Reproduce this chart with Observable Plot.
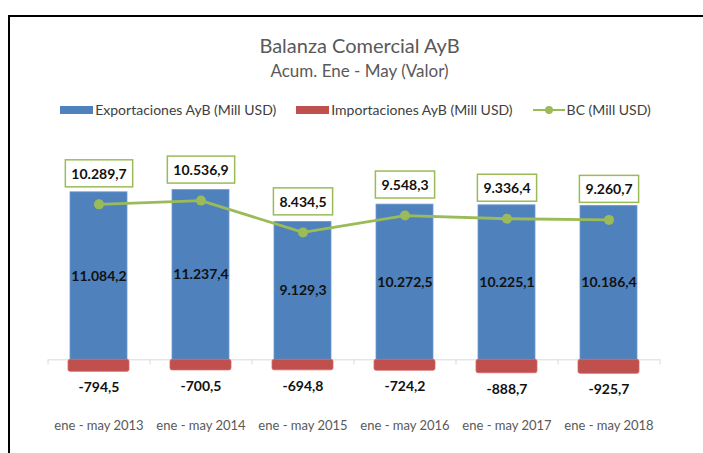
<!DOCTYPE html>
<html>
<head>
<meta charset="utf-8">
<script src="https://cdn.jsdelivr.net/npm/d3@7"></script>
<script src="https://cdn.jsdelivr.net/npm/@observablehq/plot@0.6"></script>
<style>
  html, body { margin: 0; padding: 0; background: #fff; overflow: hidden; width: 703px; height: 453px; }
  #frame { position: absolute; left: 8px; top: 15px; width: 720px; height: 460px;
           border-top: 2px solid #000; border-left: 2px solid #000; box-sizing: border-box; }
  #inner { position: absolute; left: -2px; top: 0px; width: 695px; font-family: Lato, "Open Sans", sans-serif; }
  .title { position: absolute; top: 16px; left: 4px; width: 695px; text-align: center; font-size: 20px; color: #595959; }
  .subtitle { position: absolute; top: 43px; left: 4px; width: 695px; text-align: center; font-size: 17px; color: #595959; }
  .legend { position: absolute; top: 84px; width: 695px; display: flex; justify-content: center; align-items: center;
            font-size: 14px; color: #404040; }
  .legend .item { display: flex; align-items: center; margin: 0 10px; }
  .sw { width: 33px; height: 8px; margin-right: 2px; }
  .ln { position: relative; width: 32px; height: 10px; margin-right: 2px; }
  .ln::before { content: ""; position: absolute; left: 0; right: 0; top: 4px; height: 2.5px; background: #9bbb59; }
  .ln::after { content: ""; position: absolute; left: 12px; top: 1.5px; width: 8px; height: 8px; border-radius: 50%; background: #9bbb59; }
  #chart { position: absolute; left: 0; top: 111px; }
</style>
</head>
<body>
<div id="frame">
  <div id="inner">
    <div class="title">Balanza Comercial AyB</div>
    <div class="subtitle">Acum. Ene - May (Valor)</div>
    <div class="legend" id="legend"></div>
    <div id="chart"></div>
  </div>
</div>
<script>
const periods = ["ene - may 2013", "ene - may 2014", "ene - may 2015", "ene - may 2016", "ene - may 2017", "ene - may 2018"];
const exportaciones = [11084.2, 11237.4, 9129.3, 10272.5, 10225.1, 10186.4];
const importaciones = [-794.5, -700.5, -694.8, -724.2, -888.7, -925.7];
const bc = [10289.7, 10536.9, 8434.5, 9548.3, 9336.4, 9260.7];
const seriesNames = ["Exportaciones AyB (Mill USD)", "Importaciones AyB (Mill USD)", "BC (Mill USD)"];

const BLUE = "#4f81bd", RED = "#c0504d", GREEN = "#9bbb59";

const rows = periods.map((p, i) => ({period: p, exp: exportaciones[i], imp: importaciones[i], bc: bc[i]}));
const fmt = v => {
  const s = Math.abs(v).toFixed(1).split(".");
  const intPart = s[0].replace(/\B(?=(\d{3})+(?!\d))/g, ".");
  return (v < 0 ? "-" : "") + intPart + "," + s[1];
};

// legend
const legend = document.getElementById("legend");
legend.innerHTML =
  `<div class="item"><div class="sw" style="background:${BLUE}"></div>${seriesNames[0]}</div>` +
  `<div class="item"><div class="sw" style="background:${RED}"></div>${seriesNames[1]}</div>` +
  `<div class="item"><div class="ln"></div>${seriesNames[2]}</div>`;

const W = 695, H = 343;
const plot = Plot.plot({
  width: W,
  height: H,
  marginLeft: 40,
  marginRight: 43,
  marginTop: 50,
  marginBottom: 89,
  style: {fontFamily: "Lato, 'Open Sans', sans-serif", fontSize: "12px", background: "transparent", overflow: "visible"},
  x: {domain: periods, paddingInner: 0.44, paddingOuter: 0.22, label: null},
  y: {domain: [-1500, 12000], axis: null},
  marks: [
    Plot.ruleY([0], {stroke: "#d9d9d9", strokeWidth: 1}),
    Plot.ruleX(periods, {x: d => d, y1: 0, y2: -330, dx: -51, stroke: "#d9d9d9"}),
    Plot.ruleX([periods[periods.length - 1]], {x: d => d, y1: 0, y2: -330, dx: 51, stroke: "#d9d9d9"}),
    Plot.barY(rows, {x: "period", y: "exp", fill: BLUE, stroke: "#6f9bd1", strokeWidth: 0.8}),
    Plot.barY(rows, {x: "period", y: "imp", fill: RED, insetLeft: -2, insetRight: -2, rx: 2, stroke: "#d46a66", strokeWidth: 0.8}),
    Plot.axisX({tickSize: 0, tickPadding: 38, fontSize: 13, fill: "#595959", label: null}),
    Plot.text(rows, {x: "period", y: d => d.exp / 2, text: d => fmt(d.exp), fontWeight: "bold", fontSize: 14, fill: "#111"}),
    Plot.text(rows, {x: "period", y: "imp", text: d => fmt(d.imp), dy: 16, fontWeight: "bold", fontSize: 14, fill: "#111"}),
    Plot.line(rows, {x: "period", y: "bc", stroke: GREEN, strokeWidth: 2.8}),
    Plot.dot(rows, {x: "period", y: "bc", r: 5, fill: GREEN}),
    Plot.text(rows, {x: "period", y: "bc", text: d => fmt(d.bc), dy: -30, fontWeight: "bold", fontSize: 14, fill: "#111", ariaLabel: "bc-labels"})
  ]
});
document.getElementById("chart").appendChild(plot);

// boxes around BC labels (measured from the rendered text of the library's text mark)
const labels = new Set(bc.map(fmt));
const svgRect = plot.getBoundingClientRect();
const boxG = document.createElementNS("http://www.w3.org/2000/svg", "g");
const bcTexts = Array.from(plot.querySelectorAll("text")).filter(t => labels.has(t.textContent));
bcTexts.forEach(t => {
  const b = t.getBoundingClientRect();
  const r = document.createElementNS("http://www.w3.org/2000/svg", "rect");
  r.setAttribute("x", b.left - svgRect.left - 6);
  r.setAttribute("y", b.top - svgRect.top - 5);
  r.setAttribute("width", b.width + 12);
  r.setAttribute("height", b.height + 10);
  r.setAttribute("fill", "#fff");
  r.setAttribute("stroke", GREEN);
  r.setAttribute("stroke-width", 1.5);
  boxG.appendChild(r);
});
if (bcTexts.length) {
  const grp = bcTexts[0].closest("g");
  grp.parentNode.insertBefore(boxG, grp);
}
</script>
</body>
</html>
